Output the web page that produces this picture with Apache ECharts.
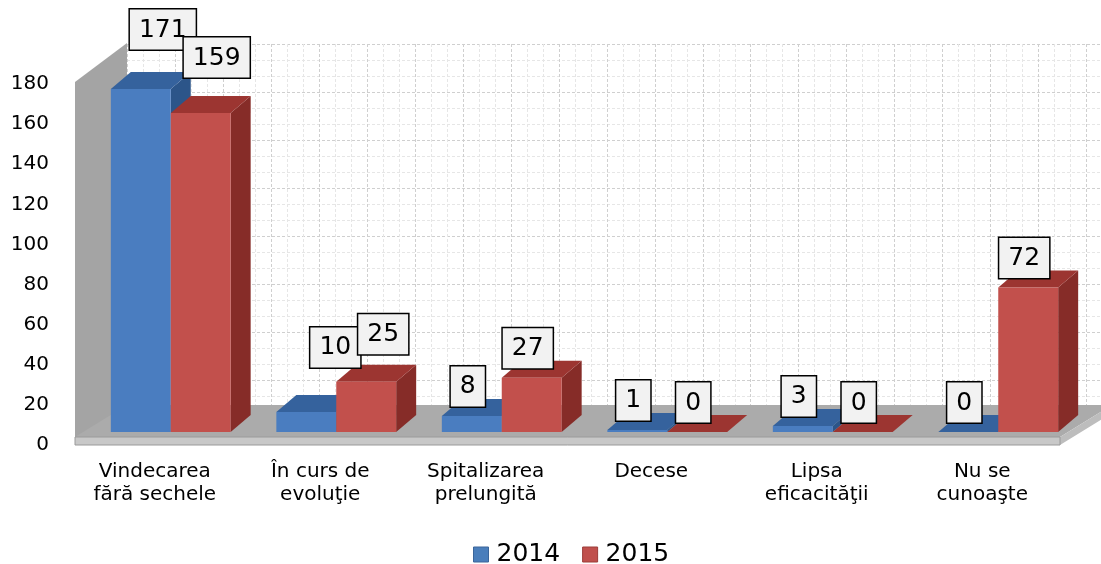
<!DOCTYPE html>
<html><head><meta charset="utf-8">
<script src="https://cdn.jsdelivr.net/npm/echarts@6/dist/echarts.min.js"></script>
<style>html,body{margin:0;padding:0;background:#fff}#c{width:1101px;height:564px}</style>
</head><body><div id="c"></div>
<script>
// ---------- data ----------
const categories = ["Vindecarea\nfără sechele", "În curs de\nevoluţie", "Spitalizarea\nprelungită", "Decese", "Lipsa\neficacităţii", "Nu se\ncunoaşte"];
const seriesNames = ["2014", "2015"];
const values2014 = [171, 10, 8, 1, 3, 0];
const values2015 = [159, 25, 27, 0, 0, 72];
const yMin = 0, yMax = 180, yInterval = 20;

// ---------- styling / layout ----------
const FONT = 'DejaVu Sans';
const BAR_SHIFT = [16, -13];
const BAR_DEPTH = [20, -17];
const BAR_FRAC = 0.362;
const WALL_DEPTH = [52, -39];
const FLOOR_THICK = 8;
const COLORS = [
  {front: '#4A7DC0', top: '#35629D', side: '#2C5589', legend: '#4A7EBB', border: '#3A659A'},
  {front: '#C2504C', top: '#9C3531', side: '#862C28', legend: '#C0504D', border: '#9B3C39'}
];
// manual nudges of a few labels (series-category)
const labelNudge = {'0-0': [26, -30], '1-0': [20, -26], '0-1': [33, -35], '1-1': [21, -18]};

function barGeom(api, sIdx) {
  const i = api.value(0), v = api.value(1);
  const base = api.coord([i, 0]), top = api.coord([i, v]);
  const band = api.size([1, 0])[0];
  const bw = band * BAR_FRAC;
  const fx0 = base[0] + BAR_SHIFT[0] + (sIdx - 1) * bw;
  const fx1 = fx0 + bw;
  const fyB = base[1] + BAR_SHIFT[1];
  const fyT = top[1] + BAR_SHIFT[1];
  return {fx0, fx1, fyB, fyT, v, i};
}

function barRender(sIdx) {
  const c = COLORS[sIdx];
  return function (params, api) {
    const g = barGeom(api, sIdx);
    const [dx, dy] = BAR_DEPTH;
    const children = [];
    children.push({type: 'polygon', shape: {points: [[g.fx1, g.fyT], [g.fx1 + dx, g.fyT + dy], [g.fx1 + dx, g.fyB + dy], [g.fx1, g.fyB]]}, style: {fill: c.side}});
    children.push({type: 'polygon', shape: {points: [[g.fx0, g.fyT], [g.fx1, g.fyT], [g.fx1 + dx, g.fyT + dy], [g.fx0 + dx, g.fyT + dy]]}, style: {fill: c.top}});
    if (g.fyB - g.fyT > 0.5) {
      children.push({type: 'rect', shape: {x: g.fx0, y: g.fyT, width: g.fx1 - g.fx0, height: g.fyB - g.fyT}, style: {fill: c.front}});
    }
    return {type: 'group', children};
  };
}

function labelRender(sIdx) {
  return function (params, api) {
    const g = barGeom(api, sIdx);
    const [dx, dy] = BAR_DEPTH;
    const nud = labelNudge[sIdx + '-' + g.i] || [0, 0];
    const x = (g.fx0 + g.fx1) / 2 - 4 + nud[0];
    const y = g.fyT + dy / 2 - 1 + nud[1];
    return {
      type: 'text', x, y,
      style: {
        text: String(g.v), fontSize: 25, fontFamily: FONT, fill: '#000',
        backgroundColor: '#F2F2F2', borderColor: '#000', borderWidth: 1.5,
        padding: [8, 9, 7, 9], align: 'center', verticalAlign: 'bottom'
      }
    };
  };
}

function frameRender(params, api) {
  const band = api.size([1, 0])[0];
  const p0 = api.coord([0, yMin]);
  const pT = api.coord([0, yMax]);
  const x0 = p0[0] - band / 2 + 3;
  const x1 = api.coord([categories.length - 1, yMin])[0] + band / 2 - 5;
  const yF = p0[1], yT = pT[1];
  const [wx, wy] = WALL_DEPTH;
  const yBack = yF + wy - 1;
  return {type: 'group', children: [
    {type: 'polygon', shape: {points: [[x0, yF], [x0, yT - 2], [x0 + wx, yT + wy - 2], [x0 + wx, yBack]]}, style: {fill: '#A4A4A4'}},
    {type: 'polygon', shape: {points: [[x0, yF - FLOOR_THICK], [x1, yF - FLOOR_THICK], [x1 + wx, yBack], [x0 + wx, yBack]]}, style: {fill: '#ABABAB'}},
    {type: 'polygon', shape: {points: [[x1, yF - FLOOR_THICK], [x1 + wx, yBack], [x1 + wx, yBack + FLOOR_THICK], [x1, yF]]}, style: {fill: '#BDBDBD'}},
    {type: 'rect', shape: {x: x0, y: yF - FLOOR_THICK, width: x1 - x0, height: FLOOR_THICK}, style: {fill: '#C8C8C8', stroke: '#9A9A9A', lineWidth: 1}}
  ]};
}

const chart = echarts.init(document.getElementById('c'), null, {renderer: 'canvas'});
const pts = vals => vals.map((v, i) => [i, v]);

const option = {
  animation: false,
  backgroundColor: '#fff',
  grid: [
    {left: 72, right: 36, top: 84, bottom: 119, containLabel: false},
    {left: 127, right: 0, top: 44, bottom: 159, containLabel: false}
  ],
  xAxis: [
    {type: 'category', gridIndex: 0, data: categories,
      axisLine: {show: false}, axisTick: {show: false}, splitLine: {show: false},
      axisLabel: {interval: 0, fontSize: 20, fontFamily: FONT, color: '#000', lineHeight: 23, margin: 15}},
    {type: 'value', gridIndex: 1, min: 0, max: 20.3, interval: 1,
      axisLine: {show: false}, axisTick: {show: false}, axisLabel: {show: false},
      splitLine: {show: true, lineStyle: {color: '#CFCFCF', width: 1, type: [3, 2]}},
      minorSplitLine: {show: true, lineStyle: {color: '#E6E6E6', width: 1, type: [3, 2]}},
      minorTick: {show: false, splitNumber: 3}}
  ],
  yAxis: [
    {type: 'value', gridIndex: 0, min: yMin, max: yMax, interval: yInterval,
      axisLine: {show: false}, axisTick: {show: false}, splitLine: {show: false},
      axisLabel: {fontSize: 20, fontFamily: FONT, color: '#000', margin: 23}},
    {type: 'value', gridIndex: 1, min: 0, max: 7.52, interval: 1, inverse: true,
      axisLine: {show: false}, axisTick: {show: false}, axisLabel: {show: false},
      splitLine: {show: true, lineStyle: {color: '#CFCFCF', width: 1, type: [3, 2]}},
      minorSplitLine: {show: true, lineStyle: {color: '#E6E6E6', width: 1, type: [3, 2]}},
      minorTick: {show: false, splitNumber: 3}}
  ],
  legend: {
    data: [
      {name: seriesNames[0], itemStyle: {color: COLORS[0].legend, borderColor: COLORS[0].border, borderWidth: 1}},
      {name: seriesNames[1], itemStyle: {color: COLORS[1].legend, borderColor: COLORS[1].border, borderWidth: 1}}
    ],
    left: 473, top: 542, icon: 'rect', itemWidth: 15, itemHeight: 15, itemGap: 22, padding: 0,
    textStyle: {fontSize: 25, fontFamily: FONT, color: '#000', padding: [0, 0, 0, 3]}
  },
  series: [
    {type: 'custom', xAxisIndex: 0, yAxisIndex: 0, z: 1, silent: true, renderItem: frameRender, data: [[0, 0]]},
    {type: 'custom', name: seriesNames[0], xAxisIndex: 0, yAxisIndex: 0, z: 2, renderItem: barRender(0),
      itemStyle: {color: COLORS[0].legend}, encode: {x: 0, y: 1}, data: pts(values2014)},
    {type: 'custom', name: seriesNames[1], xAxisIndex: 0, yAxisIndex: 0, z: 2, renderItem: barRender(1),
      itemStyle: {color: COLORS[1].legend}, encode: {x: 0, y: 1}, data: pts(values2015)},
    {type: 'custom', xAxisIndex: 0, yAxisIndex: 0, z: 5, renderItem: labelRender(0), encode: {x: 0, y: 1}, data: pts(values2014)},
    {type: 'custom', xAxisIndex: 0, yAxisIndex: 0, z: 5, renderItem: labelRender(1), encode: {x: 0, y: 1}, data: pts(values2015)}
  ]
};
chart.setOption(option);
</script>
</body></html>
